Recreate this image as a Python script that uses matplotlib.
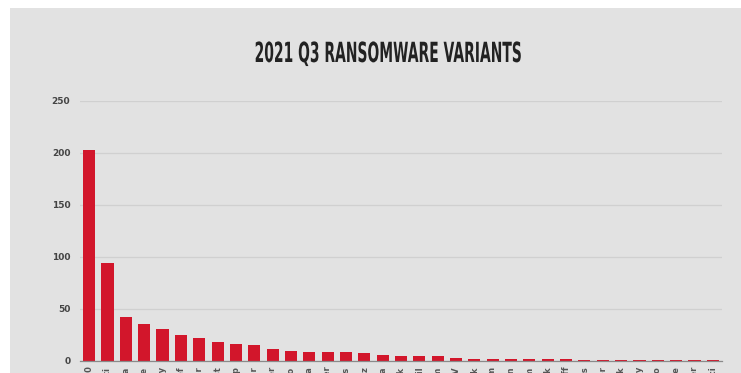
import matplotlib
matplotlib.use("Agg")
import matplotlib.pyplot as plt
from matplotlib.patches import Rectangle
from matplotlib.patheffects import AbstractPathEffect
from matplotlib.transforms import Affine2D

variants = ["LockBit 2.0", "Conti", "Pysa", "Hive", "Vice Society", "Grief",
            "BlackMatter", "Everest", "Clop", "AvosLocker", "Ragnar Locker",
            "Marketo", "Cuba", "Xing Locker", "Prometheus", "Lorenz", "Karma",
            "Spook", "REvil", "Quantum", "LV", "Ragnarok", "Astro Team",
            "Haron", "N3tworm", "SynAck", "Moses Staff", "Midas",
            "DoppelPaymer", "Babuk", "Hello Kitty", "AtomSilo", "Groove",
            "Mount Locker", "Bonaci"]
victims = [203, 94, 42, 36, 31, 25, 22, 18, 16, 15, 12, 10, 9, 9, 9, 8, 6,
           5, 5, 5, 3, 2, 2, 2, 2, 2, 2, 1, 1, 1, 1, 1, 1, 1, 1]
yticks = [0, 50, 100, 150, 200, 250]
title = "2021 Q3 RANSOMWARE VARIANTS"

W, H = 741, 373
DPI = 100


class Condense(AbstractPathEffect):
    """Squeeze a text horizontally around a fixed pixel x (condensed look)."""

    def __init__(self, cx, sx):
        super().__init__()
        self.cx = cx
        self.sx = sx

    def draw_path(self, renderer, gc, tpath, affine, rgbFace=None):
        squeeze = Affine2D().translate(-self.cx, 0).scale(self.sx, 1).translate(self.cx, 0)
        renderer.draw_path(gc, tpath, affine + squeeze, rgbFace)


fig = plt.figure(figsize=(W / DPI, H / DPI), dpi=DPI)
fig.patch.set_facecolor("white")
panel_color = "#e2e2e2"
fig.patches.append(Rectangle((10 / W, 0), 1 - 10 / W, 1 - 8 / H,
                             transform=fig.transFigure, facecolor=panel_color,
                             edgecolor="none", zorder=-10))

ax = fig.add_axes([80 / W, 12 / H, 642 / W, 260 / H])
ax.set_facecolor(panel_color)
x = list(range(len(victims)))
ax.bar(x, victims, width=0.66, color="#d2162b", zorder=3)
ax.set_xlim(-0.5, len(victims) - 0.5)
ax.set_ylim(0, 250)
ax.set_yticks(yticks)
ax.set_yticklabels([str(v) for v in yticks], fontsize=6.5, fontweight="bold",
                   color="#444444")
ax.set_xticks(x)
ax.set_xticklabels(variants, rotation=90, fontsize=6, fontweight="bold",
                   color="#555555")
ax.tick_params(axis="both", length=0)
ax.tick_params(axis="x", pad=4)
ax.tick_params(axis="y", pad=7)
ax.grid(axis="y", color="#d0d0d0", linewidth=0.9, zorder=0)
for s in ["top", "right", "left"]:
    ax.spines[s].set_visible(False)
ax.spines["bottom"].set_color("#8a8a8a")
ax.spines["bottom"].set_linewidth(0.9)
ax.spines["bottom"].set_zorder(4)

cx_px = 388
fig.text(cx_px / W, 1 - 54 / H, title, ha="center", va="center",
         fontsize=20, fontweight="bold", color="#222222",
         path_effects=[Condense(cx_px, 0.5)])

fig.savefig("out.png", dpi=DPI, facecolor=fig.get_facecolor())
